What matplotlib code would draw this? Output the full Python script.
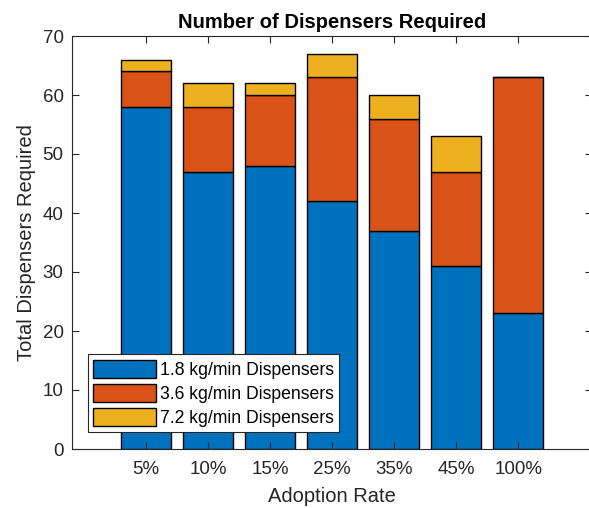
import matplotlib.pyplot as plt
import numpy as np

# data
rates = ['5%', '10%', '15%', '25%', '35%', '45%', '100%']
d18 = [58, 47, 48, 42, 37, 31, 23]
d36 = [6, 11, 12, 21, 19, 16, 40]
d72 = [2, 4, 2, 4, 4, 6, 0]
series_names = ['1.8 kg/min Dispensers', '3.6 kg/min Dispensers', '7.2 kg/min Dispensers']

plt.rcParams['font.family'] = ['Liberation Sans', 'DejaVu Sans']

fig = plt.figure(figsize=(5.89, 5.08), dpi=100)
ax = fig.add_axes([72 / 589, (508 - 449) / 508, (592 - 72) / 589, (449 - 36) / 508])

x = np.arange(1, len(rates) + 1)
colors = ['#0072BD', '#D95319', '#EDB120']
bottom = np.zeros(len(rates))
for vals, c, name in zip([d18, d36, d72], colors, series_names):
    ax.bar(x, vals, width=0.8, bottom=bottom, color=c, edgecolor='black',
           linewidth=1.0, label=name)
    bottom += np.array(vals)

ax.set_xlim(-0.19, 8.19)
ax.set_ylim(0, 70)
ax.set_xticks(x)
ax.set_xticklabels(rates)
ax.set_yticks(range(0, 71, 10))

gray = '#262626'
for s in ax.spines.values():
    s.set_color(gray)
    s.set_linewidth(0.8)
ax.tick_params(direction='in', length=5, width=0.8, colors=gray, labelsize=13.5,
               top=True, right=True, pad=6)
ax.tick_params(axis='x', pad=9)

ax.set_title('Number of Dispensers Required', fontsize=14.5, fontweight='bold', pad=6)
ax.set_xlabel('Adoption Rate', fontsize=14.5, color=gray, labelpad=6)
ax.set_ylabel('Total Dispensers Required', fontsize=14.5, color=gray, labelpad=5)

leg = ax.legend(loc='lower left', bbox_to_anchor=(0.03, 0.04), fontsize=12.7,
                frameon=True, fancybox=False, edgecolor=gray, framealpha=1,
                handlelength=3.6, handleheight=1.2, handletextpad=0.2,
                borderpad=0.3, labelspacing=0.3, borderaxespad=0)
leg.get_frame().set_linewidth(0.8)

fig.savefig('out.png', dpi=100)
